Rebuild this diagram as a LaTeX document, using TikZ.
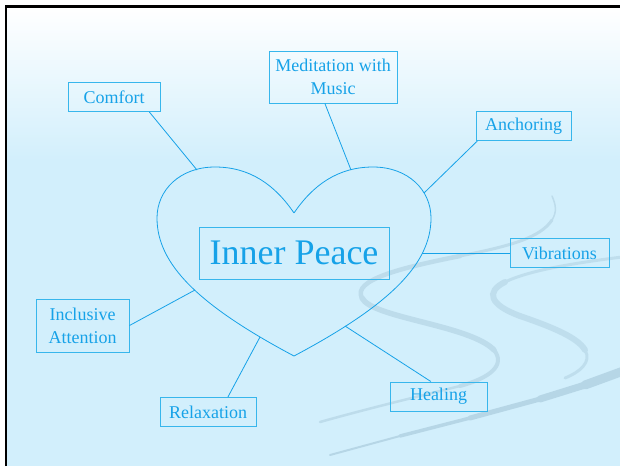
\documentclass[tikz,border=0pt]{standalone}
\usepackage{fontspec}
\setmainfont{Liberation Serif}
\usetikzlibrary{positioning}

\definecolor{sky}{RGB}{22,162,232}
\definecolor{boxc}{RGB}{55,182,236}
\definecolor{bgblue}{RGB}{210,239,252}
\definecolor{swirl}{RGB}{150,185,205}

\tikzset{
  idea/.style={draw=boxc, line width=1pt, text=sky, align=center, inner sep=0pt,
    font=\fontsize{18}{23}\selectfont, minimum height=29pt},
  core/.style={idea, font=\fontsize{36}{40}\selectfont, minimum width=190pt, minimum height=52pt},
  link/.style={draw=sky, line width=0.8pt},
  wave/.style={draw=swirl, line cap=round},
}

\begin{document}
\begin{tikzpicture}[x=1pt, y=-1pt, on grid]
        \useasboundingbox (0,0) rectangle (620,466);

        % slide background
        \fill[white] (0,0) rectangle (620,466);
        \fill[bgblue] (6,7) rectangle (620,466);
        \shade[top color=white, bottom color=bgblue] (6,7) rectangle (620,160);

        % swirls
        \begin{scope}[transparency group, opacity=0.35]
          \draw[wave, line width=1.5pt] (552,196) .. controls (556,205) and (557,212) .. (552,220);
          \draw[wave, line width=3pt] (552,220) .. controls (540,238) and (510,246) .. (460,256);
          \draw[wave, line width=4.5pt] (460,256) .. controls (400,268) and (352,280) .. (362,298);
          \draw[wave, line width=5.5pt] (362,298) .. controls (372,318) and (470,325) .. (494,350);
          \draw[wave, line width=4pt] (494,350) .. controls (506,365) and (490,378) .. (460,386);
          \draw[wave, line width=2.5pt] (460,386) .. controls (420,396) and (370,408) .. (320,422);
        \end{scope}
        \begin{scope}[transparency group, opacity=0.3]
          \draw[wave, line width=3pt] (622,257) .. controls (575,263) and (530,270) .. (505,282);
          \draw[wave, line width=6pt] (505,282) .. controls (485,292) and (490,305) .. (520,316);
          \draw[wave, line width=6pt] (520,316) .. controls (555,328) and (578,338) .. (585,350);
          \draw[wave, line width=3pt] (585,350) .. controls (592,362) and (580,372) .. (565,378);
        \end{scope}
        \begin{scope}[transparency group, opacity=0.45]
          \draw[wave, line width=2pt] (330,455) -- (400,436);
          \draw[wave, line width=3.5pt] (400,436) -- (470,418);
          \draw[wave, line width=5pt] (470,418) -- (540,399);
          \draw[wave, line width=7pt] (540,399) -- (585,385);
          \draw[wave, line width=9pt] (585,385) -- (626,370);
        \end{scope}

        \draw[line width=2.5pt] (6,466) -- (6,6.5) -- (620,6.5);

        % heart
        \draw[link] (294,213) .. controls (275,185) and (250,167) .. (215,167)
            .. controls (180,167) and (157,190) .. (157,218)
            .. controls (157,264) and (198,305) .. (294,356)
            .. controls (390,305) and (431,264) .. (431,218)
            .. controls (431,190) and (408,167) .. (373,167)
            .. controls (338,167) and (313,185) .. (294,213);

        \coordinate (hcom) at (197,170);
        \coordinate (hmed) at (351,170);
        \coordinate (hanc) at (424,193);
        \coordinate (hvib) at (422,253);
        \coordinate (hhea) at (345,326);
        \coordinate (hrel) at (260,337);
        \coordinate (hinc) at (195,290);

        \node[core] (peace) at (294,253) {Inner Peace};

        \node[idea, minimum width=92pt, above left=156pt and 180pt of peace] (comfort) {Comfort};
        \node[idea, minimum width=128pt, minimum height=52pt, above right=176pt and 39pt of peace] (medit) {Meditation with\\Music};
        \node[idea, minimum width=95pt, above right=127pt and 229.5pt of peace] (anch) {Anchoring};
        \node[idea, minimum width=99pt, right=265.5pt of peace] (vib) {Vibrations};
        \node[idea, minimum width=97pt, below right=143.5pt and 144.5pt of peace] (heal) {Healing};
        \node[idea, minimum width=96pt, below left=159pt and 86pt of peace] (relax) {Relaxation};
        \node[idea, minimum width=93pt, minimum height=53pt, below left=72.5pt and 211.5pt of peace] (incl) {Inclusive\\Attention};

        \draw[link] (comfort.-23) -- (hcom);
        \draw[link] (medit.-107) -- (hmed);
        \draw[link] (anch.-162) -- (hanc);
        \draw[link] (vib.west) -- (hvib);
        \draw[link] (heal.117) -- (hhea);
        \draw[link] (relax.37) -- (hrel);
        \draw[link] (incl.east) -- (hinc);

\end{tikzpicture}
\end{document}
